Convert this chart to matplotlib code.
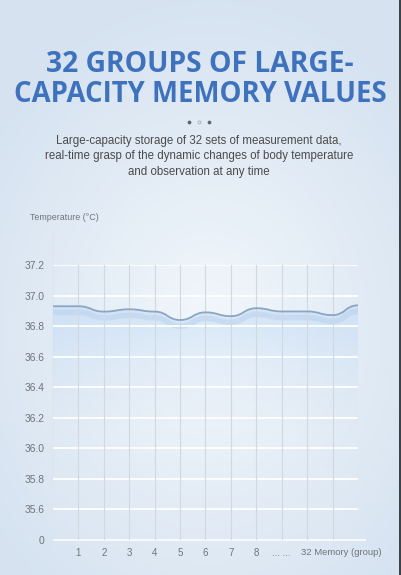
import numpy as np
import matplotlib.pyplot as plt
from matplotlib.path import Path
from matplotlib.patches import PathPatch
from matplotlib.colors import LinearSegmentedColormap

# data
groupPos = np.arange(13)
tempValues = [36.93, 36.93, 36.895, 36.91, 36.895, 36.84, 36.89, 36.865,
              36.917, 36.896, 36.896, 36.872, 36.936]
yTicks = [35.4, 35.6, 35.8, 36.0, 36.2, 36.4, 36.6, 36.8, 37.0, 37.2]
yTickLabels = ['0', '35.6', '35.8', '36.0', '36.2', '36.4', '36.6', '36.8', '37.0', '37.2']
xTicks = [1, 2, 3, 4, 5, 6, 7, 8, 9]
xTickLabels = ['1', '2', '3', '4', '5', '6', '7', '8', '... ...']

W, H = 402, 575
fig = plt.figure(figsize=(W / 100, H / 100), dpi=100)

# background: light blue with a whiter middle
bg = fig.add_axes([0, 0, 1, 1], zorder=-10)
yy, xx = np.mgrid[0:H, 0:W]
r = np.sqrt(((xx - 210) / 260.0) ** 2 + ((yy - 330) / 330.0) ** 2)
r = np.clip(r, 0, 1)
c0 = np.array([0.95, 0.97, 0.985])
c1 = np.array([0.84, 0.89, 0.945])
img = c0[None, None, :] * (1 - r[..., None]) + c1[None, None, :] * r[..., None]
img[:, 399:] = [0.24, 0.26, 0.28]
bg.imshow(img, extent=[0, W, H, 0], aspect='auto')
bg.set_xlim(0, W)
bg.set_ylim(H, 0)
bg.axis('off')

# title and subtitle
fig.text(200 / W, 1 - 64 / H, '32 GROUPS OF LARGE-', ha='center', va='center',
         fontsize=20.3, fontweight='bold', family='Open Sans', color='#3e72bd')
fig.text(200 / W, 1 - 95 / H, 'CAPACITY MEMORY VALUES', ha='center', va='center',
         fontsize=19.8, fontweight='bold', family='Open Sans', color='#3e72bd')
for dx, fc in zip([189, 199, 209], ['#5a6470', 'none', '#5a6470']):
    bg.plot(dx, 122, 'o', ms=2.2, mfc=fc, mec='#98a2ae' if fc == 'none' else fc, mew=0.5)
subLines = ['Large-capacity storage of 32 sets of measurement data,',
            'real-time grasp of the dynamic changes of body temperature',
            'and observation at any time']
for i, s in enumerate(subLines):
    fig.text(199 / W, 1 - (141 + 15.5 * i) / H, s, ha='center', va='center',
             fontsize=8.3, family='Liberation Sans', color='#4a4a4a')

# chart axes
ax = fig.add_axes([53 / W, 1 - 540 / H, (358 - 53) / W, (540 - 265) / H])
ax.patch.set_alpha(0)
ax.set_xlim(0, 12)
ax.set_ylim(35.4, 37.2)
for sp in ax.spines.values():
    sp.set_visible(False)

for yv in yTicks[1:]:
    ax.axhline(yv, color='#fbfdff', lw=1.4, zorder=5)
for xv in range(1, 13):
    ax.axvline(xv, color='#d2d8df', lw=0.8, zorder=5)

# smooth curve through the points (cubic bezier, flat tangents)
verts = [(groupPos[0], tempValues[0])]
codes = [Path.MOVETO]
for i in range(1, len(groupPos)):
    xm = (groupPos[i - 1] + groupPos[i]) / 2
    verts += [(xm, tempValues[i - 1]), (xm, tempValues[i]), (groupPos[i], tempValues[i])]
    codes += [Path.CURVE4] * 3
curve = Path(verts, codes)

fillVerts = verts + [(groupPos[-1], 35.4), (groupPos[0], 35.4), verts[0]]
fillCodes = codes + [Path.LINETO, Path.LINETO, Path.CLOSEPOLY]
fillPatch = PathPatch(Path(fillVerts, fillCodes), fc='none', ec='none')
ax.add_patch(fillPatch)

cmap = LinearSegmentedColormap.from_list('fade', [(0.75, 0.85, 0.96, 0.0),
                                                  (0.75, 0.85, 0.96, 0.22),
                                                  (0.76, 0.86, 0.97, 0.6)])
grad = np.linspace(0, 1, 256)[:, None]
gi = ax.imshow(grad, extent=[0, 12, 36.15, 36.95], origin='lower', cmap=cmap,
               aspect='auto', zorder=2, interpolation='bilinear')
gi.set_clip_path(fillPatch)
ax.set_xlim(0, 12)
ax.set_ylim(35.4, 37.2)

# shadow band under the line
shadow = Path([(x, y - 0.04) for x, y in verts], codes)
ax.add_patch(PathPatch(shadow, fc='none', ec='#bcd4ee', lw=4, alpha=0.6, zorder=3))
ax.add_patch(PathPatch(curve, fc='none', ec='#8aa6c2', lw=1.3, zorder=6))

ax.set_yticks(yTicks)
ax.set_yticklabels(yTickLabels, fontsize=7.4, family='Liberation Sans', color='#6f747a')
ax.set_xticks(xTicks)
ax.set_xticklabels(xTickLabels, fontsize=7, family='Liberation Sans', color='#6f747a')
ax.tick_params(length=0, pad=6)
ax.text(9.75, 35.35, '32 Memory (group)', ha='left', va='top',
        fontsize=6.8, family='Liberation Sans', color='#6f747a')

# axis lines
bg.plot([53, 365], [540, 540], color='#f7f9fc', lw=1.5)
bg.annotate('', xy=(53, 231), xytext=(53, 541),
            arrowprops=dict(arrowstyle='-|>', color='#dfe5ec', lw=1.0,
                            mutation_scale=5, shrinkA=0, shrinkB=0))
fig.text(30 / W, 1 - 217 / H, 'Temperature (°C)', ha='left', va='center',
         fontsize=6.4, family='Liberation Sans', color='#6f747a')

fig.savefig('out.png', dpi=100)
